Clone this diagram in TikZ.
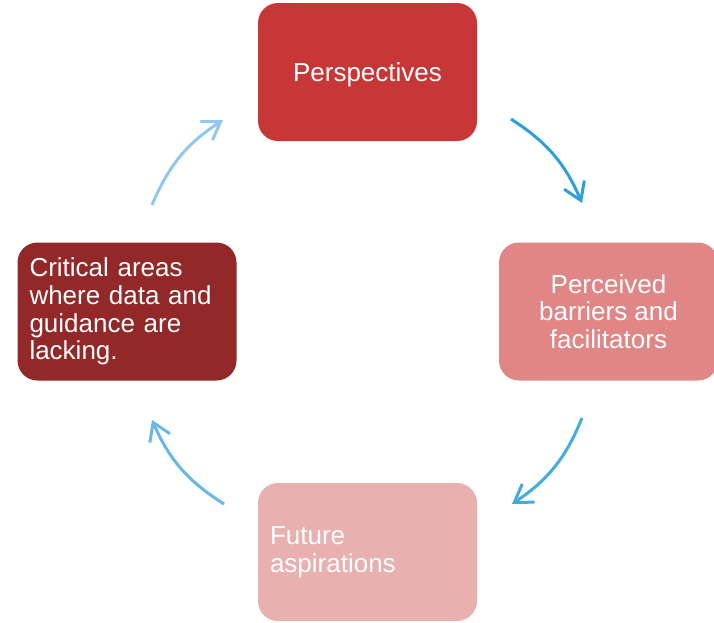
\documentclass[tikz,border=0pt]{standalone}
\usepackage{fontspec}
\setmainfont{Liberation Sans}
\usepackage{xcolor}
\usepackage{tikz}
\usetikzlibrary{arrows.meta}
\usetikzlibrary{positioning}

\definecolor{persred}{HTML}{C83737}
\definecolor{barrred}{HTML}{E08686}
\definecolor{futred}{HTML}{E9B0B0}
\definecolor{critred}{HTML}{922828}
\definecolor{arrA}{HTML}{2E9FD8}
\definecolor{arrB}{HTML}{45AAE0}
\definecolor{arrC}{HTML}{6AB6E5}
\definecolor{arrD}{HTML}{92C8ED}

\begin{document}
\begin{tikzpicture}[x=1pt,y=-1pt,->,>={Straight Barb[length=17pt,width=22pt]},line width=3pt]
 \tikzstyle{box}=[rounded corners=20pt, minimum width=219pt, minimum height=138pt, inner sep=0pt, text=white, font=\fontsize{26}{27.7}\selectfont]
 \tikzstyle{cbox}=[box, text depth=0pt, align=center]
 \tikzstyle{lbox}=[box, text width=195pt, align=left]
 \clip (0,0) rectangle (714,622);
  \node[cbox, fill=persred] (P) at (367.5,72) {Perspectives};
  \node[cbox, fill=barrred] (B) at (608.5,311.5) {Perceived\\barriers and\\facilitators};
  \node[lbox, fill=futred]  (F) at (367.5,552) {Future\\aspirations};
  \node[lbox, fill=critred] (C) at (127,311.5) {Critical areas\\where data and\\guidance are\\lacking.};
  % arrow ends
  \coordinate (PBs) at (511,119);
  \coordinate (PBe) at (582,203);
  \coordinate (BFs) at (582,418);
  \coordinate (BFe) at (512,504);
  \coordinate (FCs) at (224,504);
  \coordinate (FCe) at (152,420);
  \coordinate (CPs) at (152,205);
  \coordinate (CPe) at (223,120);
  \path
    (PBs) edge [color=arrA, bend left=17] (PBe)
    (BFs) edge [color=arrB, bend left=17] (BFe)
    (FCs) edge [color=arrC, bend left=17] (FCe)
    (CPs) edge [color=arrD, bend left=17] (CPe);
\end{tikzpicture}
\end{document}
